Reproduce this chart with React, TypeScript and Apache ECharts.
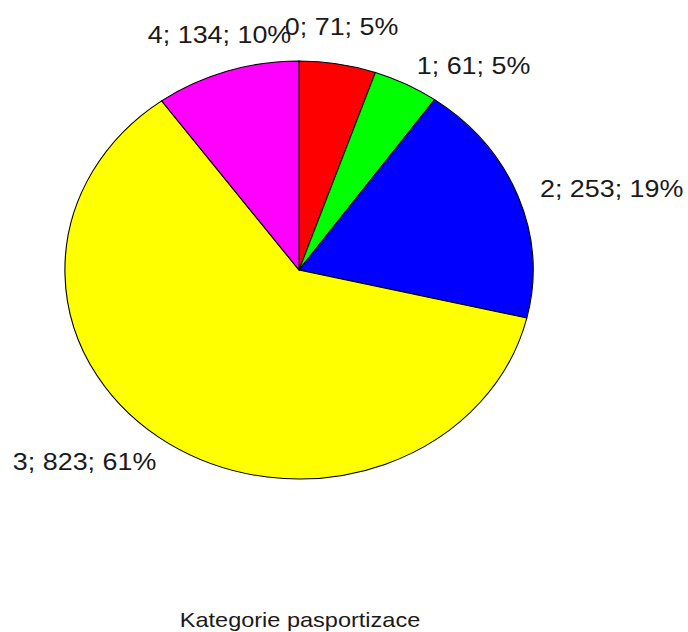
import React, { useEffect, useRef } from "react";
import * as echarts from "echarts";

const categories = ["0", "1", "2", "3", "4"];
const values = [71, 61, 253, 823, 134];
const percents = ["5%", "5%", "19%", "61%", "10%"];
const colors = ["#FF0000", "#00FF00", "#0000FF", "#FFFF00", "#FF00FF"];
const title = "Kategorie pasportizace";

const FONT = "'Liberation Sans', Arial, sans-serif";

export default function App() {
  const ref = useRef<HTMLDivElement>(null);
  useEffect(() => {
    document.body.style.margin = "0";
    if (!ref.current) return;
    const chart = echarts.init(ref.current, undefined, { renderer: "svg" });
    const total = values.reduce((a, b) => a + b, 0);
    const starts: number[] = [];
    let acc = 0;
    values.forEach((v) => {
      starts.push(acc);
      acc += v;
    });
    const cx = 299;
    const cy = 270;
    const r = 209;
    const sx = 1.12;

    const option: any = {
      animation: false,
      backgroundColor: "#ffffff",
      graphic: [
        {
          type: "text",
          x: 300,
          y: 620,
          scaleX: sx,
          style: {
            text: title,
            fontSize: 21,
            fontFamily: FONT,
            fill: "#1a1a1a",
            textAlign: "center",
            textVerticalAlign: "middle",
            align: "center",
            verticalAlign: "middle",
          },
        },
      ],
      series: [
        {
          type: "custom",
          coordinateSystem: "none",
          data: values.map((v, i) => [i, v]),
          renderItem: (params: any) => {
            const i = params.dataIndex;
            const f0 = starts[i] / total;
            const f1 = (starts[i] + values[i]) / total;
            const a0 = -Math.PI / 2 + f0 * 2 * Math.PI;
            const a1 = -Math.PI / 2 + f1 * 2 * Math.PI;
            const theta = ((f0 + f1) / 2) * 2 * Math.PI;
            const s = Math.sin(theta);
            const c = Math.cos(theta);
            let lx = 1.1 * r * s;
            let ly = -1.1 * r * c;
            let align = s >= 0 ? "left" : "right";
            if (Math.abs(s) < 0.4) {
              align = "center";
              ly -= 17;
            }
            const label = `${categories[i]}; ${values[i]}; ${percents[i]}`;
            return {
              type: "group",
              x: cx,
              y: cy,
              scaleX: sx,
              children: [
                {
                  type: "sector",
                  shape: {
                    cx: 0,
                    cy: 0,
                    r0: 0,
                    r: r,
                    startAngle: a0,
                    endAngle: a1,
                    clockwise: true,
                  },
                  style: {
                    fill: colors[i],
                    stroke: "#000000",
                    lineWidth: 1,
                    strokeNoScale: true,
                  },
                },
                {
                  type: "text",
                  z2: 10,
                  style: {
                    text: label,
                    x: lx,
                    y: ly,
                    fontSize: 24,
                    fontFamily: FONT,
                    fill: "#1a1a1a",
                    textAlign: align,
                    textVerticalAlign: "middle",
                    align: align,
                    verticalAlign: "middle",
                  },
                },
              ],
            };
          },
        },
      ],
    };
    chart.setOption(option);
    return () => chart.dispose();
  }, []);
  return <div ref={ref} style={{ width: 688, height: 632 }} />;
}
